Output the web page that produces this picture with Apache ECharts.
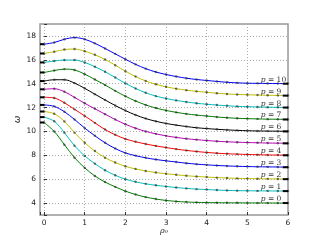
<!DOCTYPE html>
<html>
<head>
<meta charset="utf-8">
<script src="https://cdn.jsdelivr.net/npm/echarts@6/dist/echarts.min.js"></script>
<style>html,body{margin:0;padding:0;background:#fff}#c{width:320px;height:240px}</style>
</head>
<body>
<div id="c"></div>
<script>
const rho = [0,0.25,0.5,0.75,1,1.25,1.5,1.75,2,2.25,2.5,2.75,3,3.25,3.5,3.75,4,4.25,4.5,4.75,5,5.25,5.5,5.75,6];
const w_p0 = [10.75,10.0,8.89,7.8,6.95,6.27,5.76,5.36,5.0,4.72,4.5,4.34,4.22,4.14,4.09,4.06,4.04,4.03,4.02,4.02,4.01,4.01,4.01,4.0,4.0];
const w_p1 = [11.2,10.85,9.9,8.8,7.95,7.3,6.75,6.33,6.0,5.78,5.61,5.49,5.39,5.3,5.23,5.17,5.13,5.09,5.06,5.04,5.03,5.02,5.02,5.01,5.01];
const w_p2 = [11.67,11.48,10.84,9.9,9.05,8.36,7.8,7.4,7.08,6.86,6.69,6.56,6.46,6.37,6.29,6.23,6.18,6.13,6.1,6.07,6.05,6.04,6.03,6.02,6.01];
const w_p3 = [12.22,12.1,11.65,11.0,10.28,9.64,9.05,8.57,8.2,7.97,7.79,7.65,7.54,7.44,7.34,7.26,7.2,7.15,7.11,7.08,7.06,7.04,7.03,7.02,7.01];
const w_p4 = [12.86,12.8,12.4,11.85,11.3,10.72,10.16,9.72,9.37,9.14,8.95,8.79,8.65,8.52,8.41,8.32,8.24,8.18,8.13,8.1,8.07,8.05,8.03,8.02,8.01];
const w_p5 = [13.53,13.58,13.33,12.85,12.36,11.9,11.45,11.0,10.6,10.27,10.0,9.8,9.63,9.5,9.39,9.31,9.24,9.18,9.13,9.1,9.07,9.05,9.03,9.02,9.01];
const w_p6 = [14.22,14.33,14.33,14.05,13.61,13.12,12.64,12.17,11.75,11.38,11.08,10.85,10.67,10.53,10.41,10.31,10.24,10.18,10.13,10.09,10.06,10.04,10.03,10.02,10.01];
const w_p7 = [14.94,15.1,15.22,15.15,14.8,14.35,13.89,13.4,12.95,12.55,12.22,11.96,11.76,11.6,11.47,11.37,11.29,11.21,11.15,11.1,11.07,11.05,11.03,11.02,11.01];
const w_p8 = [15.78,15.9,15.98,15.98,15.78,15.42,15.0,14.52,14.03,13.6,13.24,12.96,12.76,12.6,12.47,12.36,12.28,12.21,12.15,12.1,12.07,12.05,12.03,12.02,12.01];
const w_p9 = [16.53,16.68,16.86,16.9,16.72,16.42,16.03,15.55,15.05,14.6,14.23,13.95,13.74,13.58,13.46,13.36,13.28,13.2,13.14,13.1,13.07,13.05,13.03,13.02,13.01];
const w_p10 = [17.31,17.45,17.72,17.86,17.72,17.38,16.95,16.5,16.05,15.62,15.26,14.98,14.77,14.6,14.46,14.35,14.27,14.19,14.12,14.07,14.04,14.03,14.02,14.01,14.01];
const asymptotes = [4,5,6,7,8,9,10,11,12,13,14];
const pNames = ['0','1','2','3','4','5','6','7','8','9','10'];
const xTicks = [0,1,2,3,4,5,6];
const yTicks = [4,6,8,10,12,14,16,18];

const curves = [w_p0,w_p1,w_p2,w_p3,w_p4,w_p5,w_p6,w_p7,w_p8,w_p9,w_p10];
const colors = ['#008000','#00bfbf','#bfbf00','#0000ff','#ff0000','#bf00bf','#000000','#008000','#00bfbf','#bfbf00','#0000ff'];
const xMin = -0.1, xMax = 6, yMin = 3, yMax = 19;
const stubLen = 0.13, labelX = 5.33;

const series = [];
curves.forEach((vals, i) => {
  series.push({
    type: 'line', name: 'p' + i,
    data: rho.map((r, k) => [r, vals[k]]),
    smooth: 0.35,
    symbol: 'circle', symbolSize: 2.4,
    showAllSymbol: true,
    itemStyle: { color: 'rgba(40,40,40,0.65)' },
    lineStyle: { color: colors[i], width: 1 },
    z: 3,
    markPoint: {
      symbol: 'circle', symbolSize: 0, silent: true,
      data: [{ coord: [labelX, asymptotes[i]] }],
      label: {
        show: true, position: 'right', distance: 0, offset: [0, -4],
        formatter: '{i|p} = ' + pNames[i],
        fontFamily: 'DejaVu Serif', fontSize: 7.5, color: '#333',
        rich: { i: { fontFamily: 'DejaVu Serif', fontStyle: 'italic', fontSize: 7.5, color: '#333' } }
      }
    }
  });
  series.push({
    type: 'line', data: [[xMin, vals[0]], [rho[0], vals[0]]],
    symbol: 'none', lineStyle: { color: '#000', width: 2 }, z: 4, silent: true
  });
  series.push({
    type: 'line', data: [[xMax - stubLen, asymptotes[i]], [xMax, asymptotes[i]]],
    symbol: 'none', lineStyle: { color: '#000', width: 2 }, z: 4, silent: true
  });
});

const chart = echarts.init(document.getElementById('c'), null, { renderer: 'canvas' });
chart.setOption({
  animation: false,
  backgroundColor: '#fff',
  grid: { left: 40, right: 32, top: 24, bottom: 24, show: true, borderColor: '#999', borderWidth: 1.5, backgroundColor: 'transparent' },
  xAxis: {
    type: 'value', min: xMin, max: xMax, splitNumber: 6,
    name: 'ρ₀', nameLocation: 'middle', nameGap: 12, nameMoveOverlap: false,
    nameTextStyle: { fontFamily: 'DejaVu Serif', fontStyle: 'italic', fontSize: 8, color: '#222' },
    axisLine: { show: false },
    axisTick: { show: true, inside: true, length: 3, lineStyle: { color: '#333' } },
    axisLabel: { fontFamily: 'DejaVu Sans', fontSize: 7.5, color: '#222', margin: 4,
      formatter: v => xTicks.includes(Math.round(v * 1000) / 1000) ? String(Math.round(v)) : '' },
    splitLine: { show: true, lineStyle: { color: '#aaa', type: [1, 2], width: 1 } }
  },
  yAxis: {
    type: 'value', min: yMin, max: yMax, splitNumber: 8,
    name: 'ω', nameLocation: 'middle', nameGap: 18, nameRotate: 90, nameMoveOverlap: false,
    nameTextStyle: { fontFamily: 'DejaVu Sans', fontStyle: 'italic', fontSize: 9, color: '#222' },
    axisLine: { show: false },
    axisTick: { show: true, inside: true, length: 3, lineStyle: { color: '#333' } },
    axisLabel: { fontFamily: 'DejaVu Sans', fontSize: 7.5, color: '#222', margin: 4,
      formatter: v => yTicks.includes(v) ? String(v) : '' },
    splitLine: { show: true, lineStyle: { color: '#aaa', type: [1, 2], width: 1 } }
  },
  series: series
});
</script>
</body>
</html>
